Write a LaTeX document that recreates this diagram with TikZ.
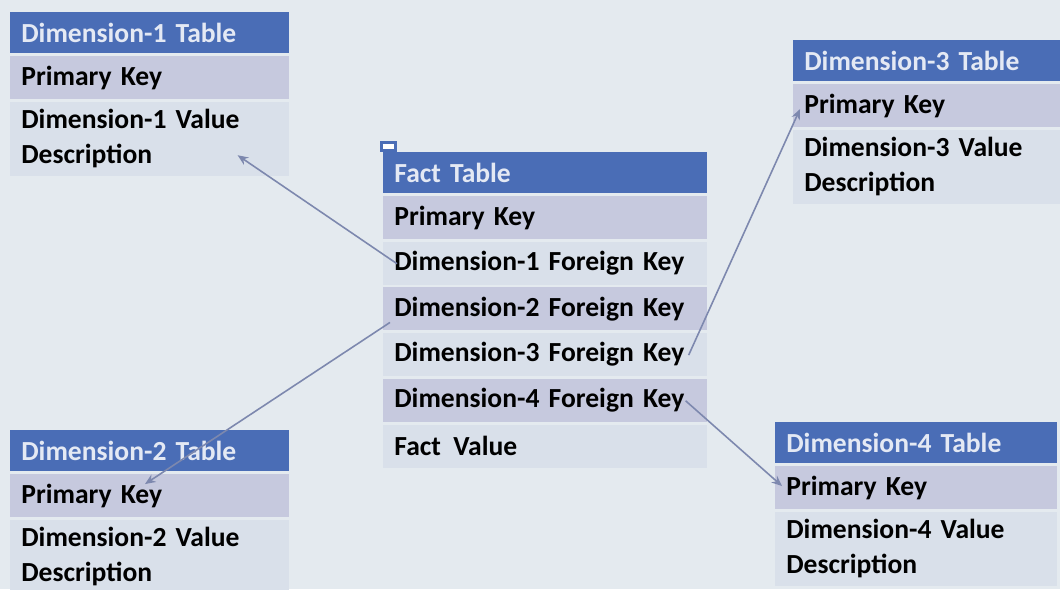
\documentclass[tikz,border=0pt]{standalone}
\usepackage{fontspec}
\setmainfont{Carlito}[WordSpace=0.75]
\usetikzlibrary{arrows.meta, positioning, calc}

\definecolor{bgcol}{HTML}{E4EAEF}
\definecolor{headcol}{HTML}{4A6DB6}
\definecolor{keycol}{HTML}{C6C9DE}
\definecolor{rowcol}{HTML}{D9E0EA}
\definecolor{linkcol}{HTML}{7D88AE}

\tikzset{
	cell/.style={font=\bfseries\fontsize{15.7}{20}\selectfont, align=left, inner xsep=0.22cm, inner ysep=0pt, minimum height=0.86cm, text width=#1},
	head/.style={cell=#1, fill=headcol, text=white!85!headcol, minimum height=0.82cm, anchor=north west},
	keyrow/.style={cell=#1, fill=keycol},
	row/.style={cell=#1, fill=rowcol},
	valrow/.style={cell=#1, fill=rowcol, minimum height=1.48cm},
	link/.style={->, draw=linkcol, line width=0.9pt}
}

\begin{document}
\begin{tikzpicture}[x=0.02cm, y=-0.02cm, >={Stealth[length=6pt, width=5pt]}, node distance=0.04cm]
	\useasboundingbox (0,0) rectangle (1060,589);
	\fill[bgcol] (0,0) rectangle (1060,589);
	\clip (0,0) rectangle (1060,589);

	% dimension 1
	\node[head=5.14cm] (d1h) at (10,12) {Dimension-1 Table};
	\node[keyrow=5.14cm, below=of d1h] (d1k) {Primary Key};
	\node[valrow=5.14cm, below=of d1k] (d1v) {Dimension-1 Value\\Description};

	% dimension 2
	\node[head=5.14cm] (d2h) at (10,430) {Dimension-2 Table};
	\node[keyrow=5.14cm, below=of d2h] (d2k) {Primary Key};
	\node[valrow=5.14cm, below=of d2k] (d2v) {Dimension-2 Value\\Description};

	% dimension 3
	\node[head=5.2cm] (d3h) at (793,40) {Dimension-3 Table};
	\node[keyrow=5.2cm, below=of d3h] (d3k) {Primary Key};
	\node[valrow=5.2cm, below=of d3k] (d3v) {Dimension-3 Value\\Description};

	% dimension 4
	\node[head=5.2cm] (d4h) at (775,422) {Dimension-4 Table};
	\node[keyrow=5.2cm, below=of d4h] (d4k) {Primary Key};
	\node[valrow=5.2cm, below=of d4k] (d4v) {Dimension-4 Value\\Description};

	% fact table
	\node[head=6.04cm] (fh) at (383,152) {Fact Table};
	\node[fill=headcol, inner xsep=1.5pt, inner ysep=1.5pt, anchor=south west] (ftab) at ($(fh.north west)+(-3,0)$) {\textcolor{white}{\rule{0.22cm}{0.1cm}}};
	\node[keyrow=6.04cm, below=of fh] (fk) {Primary Key};
	\node[row=6.04cm, below=of fk] (f1) {Dimension-1 Foreign Key};
	\node[keyrow=6.04cm, below=of f1] (f2) {Dimension-2 Foreign Key};
	\node[row=6.04cm, below=of f2] (f3) {Dimension-3 Foreign Key};
	\node[keyrow=6.04cm, below=of f3] (f4) {Dimension-4 Foreign Key};
	\node[row=6.04cm, below=of f4] (fv) {Fact\hspace{0.45em}Value};

	\draw[link] ($(f1.west)+(14,0.5)$) -- ($(d1v.east)+(-52,16.5)$);
	\draw[link] ($(f2.west)+(7,13.5)$) -- ($(d2k.west)+(135,-11.5)$);
	\draw[link] ($(f3.east)+(-19,0.5)$) -- ($(d3k.west)+(7,3.5)$);
	\draw[link] ($(f4.east)+(-22,0.5)$) -- ($(d4k.west)+(7,-1.5)$);

\end{tikzpicture}
\end{document}
